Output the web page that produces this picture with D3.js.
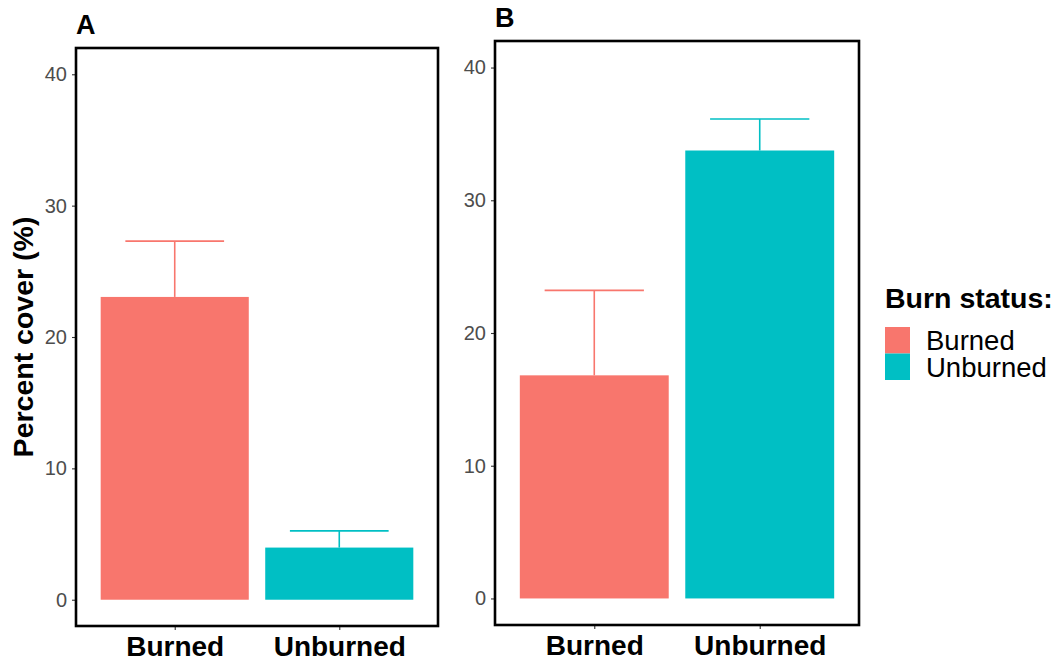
<!DOCTYPE html>
<html>
<head>
<meta charset="utf-8">
<script src="https://cdn.jsdelivr.net/npm/d3@7"></script>
<style>
  html, body { margin: 0; padding: 0; background: #fff; }
  svg { display: block; font-family: "Liberation Sans", Arial, sans-serif; }
</style>
</head>
<body>
<svg id="chart" width="1060" height="661"></svg>
<script>
// ---- data ----
const categories = ["Burned", "Unburned"];
const panelLabels = ["A", "B"];
const meansA = [23.05, 3.97];
const upperA = [27.3, 5.24];
const meansB = [16.81, 33.75];
const upperB = [23.21, 36.12];
const yTicks = [0, 10, 20, 30, 40];
const yDomain = [-2, 42];
const colors = ["#F8766D", "#00BFC4"];
const yTitle = "Percent cover (%)";
const legendTitle = "Burn status:";

const svg = d3.select("#chart");

const panels = [
  { label: panelLabels[0], means: meansA, upper: upperA, x0: 76, x1: 438, y0: 48, y1: 626, labelY: 34 },
  { label: panelLabels[1], means: meansB, upper: upperB, x0: 495, x1: 859, y0: 41, y1: 625, labelY: 27 }
];

panels.forEach(p => {
  const x = d3.scalePoint().domain(categories).range([p.x0, p.x1]).padding(0.6);
  const step = x.step();
  const y = d3.scaleLinear().domain(yDomain).range([p.y1, p.y0]);
  const g = svg.append("g");

  // bars
  g.selectAll("rect.bar").data(categories).enter().append("rect")
    .attr("x", (d) => x(d) - step * 0.45)
    .attr("width", step * 0.9)
    .attr("y", (d, i) => y(p.means[i]))
    .attr("height", (d, i) => y(0) - y(p.means[i]))
    .attr("fill", (d, i) => colors[i]);

  // error bars (upper)
  const eb = g.selectAll("g.eb").data(categories).enter().append("g");
  eb.append("line")
    .attr("x1", d => x(d)).attr("x2", d => x(d))
    .attr("y1", (d, i) => y(p.means[i])).attr("y2", (d, i) => y(p.upper[i]))
    .attr("stroke", (d, i) => colors[i]).attr("stroke-width", 1.6);
  eb.append("line")
    .attr("x1", d => x(d) - step * 0.3).attr("x2", d => x(d) + step * 0.3)
    .attr("y1", (d, i) => y(p.upper[i])).attr("y2", (d, i) => y(p.upper[i]))
    .attr("stroke", (d, i) => colors[i]).attr("stroke-width", 1.6);

  // y axis
  const ya = g.append("g").attr("transform", `translate(${p.x0},0)`)
    .call(d3.axisLeft(y).tickValues(yTicks).tickSize(4).tickPadding(5).tickFormat(d3.format("d")));
  ya.select(".domain").remove();
  ya.selectAll(".tick line").attr("stroke", "#333").attr("stroke-width", 1.1);
  ya.selectAll(".tick text").attr("fill", "#4D4D4D").style("font-size", "20px")
    .style("font-family", "'Liberation Sans', Arial, sans-serif");

  // x axis
  const xa = g.append("g").attr("transform", `translate(0,${p.y1})`)
    .call(d3.axisBottom(x).tickSize(4).tickPadding(4));
  xa.select(".domain").remove();
  xa.selectAll(".tick line").attr("stroke", "#333").attr("stroke-width", 1.1);
  xa.selectAll(".tick text").attr("fill", "#000").style("font-size", "28px")
    .style("font-weight", "bold").attr("dy", null).attr("y", 30)
    .style("font-family", "'Liberation Sans', Arial, sans-serif");

  // frame
  g.append("rect")
    .attr("x", p.x0).attr("y", p.y0)
    .attr("width", p.x1 - p.x0).attr("height", p.y1 - p.y0)
    .attr("fill", "none").attr("stroke", "#000").attr("stroke-width", 2.6);

  // panel label
  g.append("text").attr("x", p.x0).attr("y", p.labelY)
    .text(p.label).style("font-size", "27px").style("font-weight", "bold");
});

// y title
svg.append("text")
  .attr("transform", "translate(33,337) rotate(-90)")
  .attr("text-anchor", "middle")
  .style("font-size", "28.5px").style("font-weight", "bold")
  .text(yTitle);

// legend
const lg = svg.append("g");
lg.append("text").attr("x", 885).attr("y", 308)
  .style("font-size", "28.5px").style("font-weight", "bold").text(legendTitle);
categories.forEach((c, i) => {
  lg.append("rect").attr("x", 885).attr("y", 327 + i * 26.5)
    .attr("width", 25).attr("height", 26.5).attr("fill", colors[i]);
  lg.append("text").attr("x", 926).attr("y", 350 + i * 26.5)
    .style("font-size", "27.5px").text(c);
});
</script>
</body>
</html>
